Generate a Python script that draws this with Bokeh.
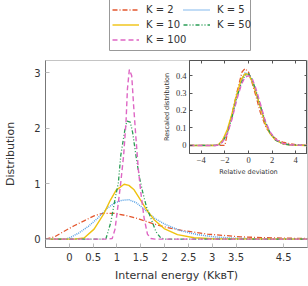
from bokeh.plotting import figure
from bokeh.models import Range1d, FixedTicker, Legend, LegendItem, LinearAxis
from bokeh.embed import file_html
from bokeh.resources import INLINE

# ---------------- data ----------------
labels = ["K = 2", "K = 5", "K = 10", "K = 50", "K = 100"]

x_k2 = [-0.5, -0.31, -0.07, 0.1, 0.31, 0.52, 0.7, 0.94, 1.22, 1.47, 1.75, 2.0, 2.34, 2.9, 3.6, 4.3, 5.0]
y_k2 = [0.0, 0.04, 0.16, 0.24, 0.33, 0.42, 0.465, 0.465, 0.42, 0.36, 0.28, 0.22, 0.16, 0.09, 0.04, 0.02, 0.01]

x_k5 = [-0.5, -0.1, 0.0, 0.2, 0.4, 0.6, 0.8, 0.95, 1.1, 1.25, 1.4, 1.5, 1.65, 1.8, 2.0, 2.34, 2.69, 3.04, 3.45, 4.0, 5.0]
y_k5 = [0.0, 0.0, 0.02, 0.11, 0.23, 0.38, 0.56, 0.65, 0.70, 0.71, 0.66, 0.59, 0.48, 0.37, 0.27, 0.15, 0.08, 0.04, 0.015, 0.003, 0.0]

x_k10 = [-0.5, 0.1, 0.31, 0.52, 0.72, 0.86, 0.98, 1.15, 1.25, 1.36, 1.5, 1.62, 1.78, 1.99, 2.27, 2.62, 3.0, 5.0]
y_k10 = [0.0, 0.0, 0.02, 0.18, 0.45, 0.70, 0.88, 0.99, 0.97, 0.89, 0.70, 0.53, 0.35, 0.19, 0.08, 0.025, 0.005, 0.0]

x_k50 = [-0.5, 0.7, 0.77, 0.87, 0.96, 1.03, 1.08, 1.17, 1.21, 1.28, 1.33, 1.40, 1.47, 1.54, 1.62, 1.71, 1.82, 1.92, 2.0, 5.0]
y_k50 = [0.0, 0.0, 0.01, 0.30, 0.72, 1.02, 1.51, 1.99, 2.13, 2.11, 1.92, 1.50, 1.12, 0.85, 0.58, 0.38, 0.13, 0.02, 0.0, 0.0]

x_k100 = [-0.5, 0.8, 0.9, 0.96, 1.03, 1.08, 1.14, 1.19, 1.22, 1.26, 1.31, 1.35, 1.40, 1.45, 1.50, 1.57, 1.64, 1.71, 1.8, 5.0]
y_k100 = [0.0, 0.0, 0.01, 0.18, 0.66, 1.02, 1.51, 2.11, 2.71, 3.06, 2.95, 2.41, 1.81, 1.25, 0.85, 0.38, 0.09, 0.01, 0.0, 0.0]

main_xticks = [0, 0.5, 1, 1.5, 2, 2.5, 3, 3.5, 4.5]
main_xtick_labels = ["0", "0.5", "1", "1.5", "2", "2.5", "3", "3.5", "4.5"]
main_yticks = [0, 1, 2, 3]

z_grid = [-5.0, -2.8, -2.5, -2.2, -1.8, -1.4, -1.0, -0.6, -0.3, 0.0, 0.3, 0.6, 1.0, 1.4, 1.8, 2.3, 2.9, 3.6, 5.0]
z_k2 = [-5.0, -2.0, -1.85, -1.6, -1.37, -0.96, -0.55, -0.3, 0.0, 0.3, 0.6, 1.0, 1.5, 2.0, 2.5, 3.0, 3.5, 4.0, 5.0]
r_k2 = [0.0, 0.0, 0.05, 0.12, 0.19, 0.31, 0.42, 0.44, 0.42, 0.36, 0.29, 0.19, 0.10, 0.055, 0.03, 0.017, 0.01, 0.005, 0.0]
r_k5 = [0.0, 0.0, 0.005, 0.025, 0.08, 0.17, 0.28, 0.37, 0.415, 0.41, 0.37, 0.31, 0.22, 0.135, 0.075, 0.033, 0.01, 0.002, 0.0]
r_k10 = [0.0, 0.0, 0.008, 0.03, 0.09, 0.18, 0.29, 0.38, 0.41, 0.405, 0.37, 0.31, 0.22, 0.13, 0.07, 0.03, 0.01, 0.002, 0.0]
r_k50 = [0.0, 0.0, 0.004, 0.02, 0.07, 0.16, 0.27, 0.36, 0.40, 0.41, 0.38, 0.32, 0.23, 0.14, 0.075, 0.03, 0.01, 0.002, 0.0]
r_k100 = [0.0, 0.0, 0.005, 0.02, 0.065, 0.15, 0.26, 0.35, 0.39, 0.40, 0.385, 0.33, 0.24, 0.145, 0.08, 0.035, 0.012, 0.003, 0.0]

inset_xticks = [-4, -2, 0, 2, 4]
inset_xtick_labels = ["\u22124", "\u22122", "0", "2", "4"]
inset_yticks = [0, 0.1, 0.2, 0.3, 0.4]
inset_ytick_labels = ["0", "0.1", "0.2", "0.3", "0.4"]

colors = ["#e4572e", "#5aa3e6", "#efc20f", "#2a9d55", "#de66c4"]
dashes = ["5 2 1 2", "1 1", "solid", "4 2 1 2 1 2", "5 3"]
widths = [1.3, 1.5, 1.4, 1.3, 1.4]

main_series = [(x_k2, y_k2), (x_k5, y_k5), (x_k10, y_k10), (x_k50, y_k50), (x_k100, y_k100)]
inset_series = [(z_k2, r_k2), (z_grid, r_k5), (z_grid, r_k10), (z_grid, r_k50), (z_grid, r_k100)]

# ---------------- main figure ----------------
p = figure(width=307, height=297,
           x_range=Range1d(-0.5, 5.0), y_range=Range1d(-0.152, 3.224),
           output_backend="svg", toolbar_location=None,
           min_border_left=41, min_border_right=1, min_border_top=71, min_border_bottom=39,
           styles={"position": "absolute", "left": "1px", "top": "-11px"})
p.grid.visible = False
p.outline_line_color = "#c4c4c4"

for (xs, ys), c, d, w in zip(main_series, colors, dashes, widths):
    p.line(xs, ys, line_color=c, line_dash=d, line_width=w)

p.xaxis.ticker = FixedTicker(ticks=main_xticks)
p.xaxis.major_label_overrides = {t: l for t, l in zip(main_xticks, main_xtick_labels)}
p.yaxis.ticker = FixedTicker(ticks=main_yticks)
for ax in (p.xaxis[0], p.yaxis[0]):
    ax.major_tick_in = 4
    ax.major_tick_out = 0
    ax.minor_tick_line_color = None
    ax.major_tick_line_color = "#bbbbbb"
    ax.axis_line_color = "#777777"
    ax.major_label_text_font = "DejaVu Sans"
    ax.major_label_text_font_size = "10px"
    ax.major_label_text_color = "#333333"
    ax.major_label_standoff = 5
    ax.axis_label_text_font = "DejaVu Sans"
    ax.axis_label_text_font_size = "11px"
    ax.axis_label_text_font_style = "normal"
    ax.axis_label_text_color = "#333333"
p.xaxis.axis_label = "Internal energy (Kk\u0299T)"
p.xaxis.axis_label_standoff = 5
p.yaxis.axis_label = "Distribution"
p.yaxis.axis_label_standoff = 14

# ---------------- legend box (separate small figure) ----------------
# legend keys: the same series drawn far outside this figure's visible ranges
lg = figure(frame_width=142, frame_height=53, x_range=Range1d(100, 101), y_range=Range1d(100, 101),
            output_backend="svg", toolbar_location=None, min_border=0,
            x_axis_location=None, y_axis_location=None,
            styles={"position": "absolute", "left": "109px", "top": "-2px"})
lg.grid.visible = False
lg.outline_line_color = "#999999"
keys = [lg.line(xs, ys, line_color=c, line_dash=d, line_width=w)
        for (xs, ys), c, d, w in zip(main_series, colors, dashes, widths)]
legend_rows = [[0, 1], [2, 3], [4]]
legend_row_offsets = [35, 20, 5]
for row, off in zip(legend_rows, legend_row_offsets):
    lg.add_layout(Legend(items=[LegendItem(label=labels[i], renderers=[keys[i]]) for i in row],
                         orientation="horizontal", location=(3, off),
                         padding=0, margin=0, spacing=2,
                         glyph_width=27, glyph_height=13, label_height=13, label_width=35,
                         label_standoff=7, label_text_font="DejaVu Sans",
                         label_text_font_size="10px", label_text_color="#333333",
                         border_line_color=None, background_fill_alpha=0))

# ---------------- inset figure ----------------
q = figure(frame_width=118, frame_height=93,
           x_range=Range1d(-5, 5), y_range=Range1d(-0.046, 0.486),
           output_backend="svg", toolbar_location=None, min_border=0,
           styles={"position": "absolute", "left": "159px", "top": "60px"})
q.grid.visible = False
q.outline_line_color = "#555555"

for (xs, ys), c, d, w in zip(inset_series, colors, dashes, widths):
    q.line(xs, ys, line_color=c, line_dash=d, line_width=w)

q.xaxis.ticker = FixedTicker(ticks=inset_xticks)
q.xaxis.major_label_overrides = {t: l for t, l in zip(inset_xticks, inset_xtick_labels)}
q.yaxis.ticker = FixedTicker(ticks=inset_yticks)
q.yaxis.major_label_overrides = {t: l for t, l in zip(inset_yticks, inset_ytick_labels)}
for ax in (q.xaxis[0], q.yaxis[0]):
    ax.major_tick_in = 3
    ax.major_tick_out = 0
    ax.minor_tick_line_color = None
    ax.major_tick_line_color = "#555555"
    ax.axis_line_color = "#555555"
    ax.major_label_text_font = "Liberation Serif"
    ax.major_label_text_font_size = "8.5px"
    ax.major_label_text_color = "#333333"
    ax.major_label_standoff = 3
    ax.axis_label_text_font = "DejaVu Sans"
    ax.axis_label_text_font_size = "6.5px"
    ax.axis_label_text_font_style = "normal"
    ax.axis_label_text_color = "#333333"
    ax.axis_label_standoff = 2
q.xaxis.axis_label = "Relative deviation"
q.yaxis.axis_label = "Rescaled distribution"

top_ax = LinearAxis(ticker=FixedTicker(ticks=inset_xticks),
                    major_label_overrides={t: "" for t in inset_xticks},
                    major_tick_in=3, major_tick_out=0, minor_tick_line_color=None,
                    major_tick_line_color="#555555", axis_line_color=None, major_label_standoff=0)
right_ax = LinearAxis(ticker=FixedTicker(ticks=inset_yticks),
                      major_label_overrides={t: "" for t in inset_yticks},
                      major_tick_in=3, major_tick_out=0, minor_tick_line_color=None,
                      major_tick_line_color="#555555", axis_line_color=None, major_label_standoff=0)
q.add_layout(top_ax, "above")
q.add_layout(right_ax, "right")

open("out.html", "w").write(file_html([p, lg, q], INLINE))
